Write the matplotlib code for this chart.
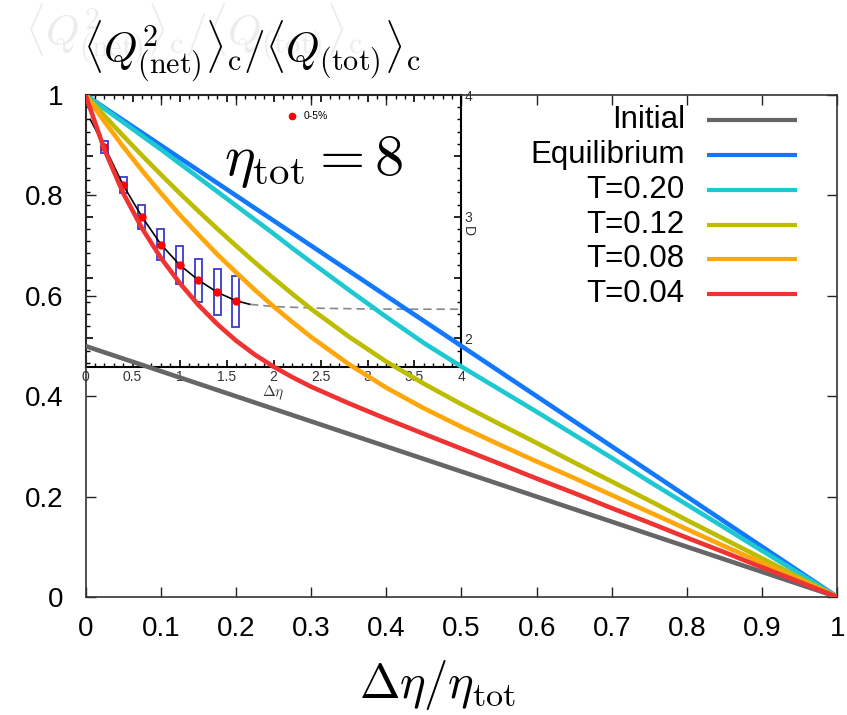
import matplotlib
matplotlib.use("Agg")
import matplotlib.pyplot as plt
from matplotlib.ticker import MultipleLocator, FuncFormatter

plt.rcParams['font.family'] = ['Liberation Sans', 'DejaVu Sans']
plt.rcParams['mathtext.fontset'] = 'cm'

# main panel: <Q_net^2>_c / <Q_tot>_c  vs  d_eta / eta_tot
x = [0, 0.025, 0.05, 0.075, 0.1, 0.125, 0.15, 0.175, 0.2, 0.225, 0.25, 0.275, 0.3,
     0.35, 0.4, 0.45, 0.5, 0.55, 0.6, 0.65, 0.7, 0.75, 0.8, 0.85, 0.9, 0.95, 1.0]
initial = [0.5, 0.4875, 0.475, 0.4625, 0.45, 0.4375, 0.425, 0.4125, 0.4, 0.3875, 0.375, 0.3625, 0.35,
           0.325, 0.3, 0.275, 0.25, 0.225, 0.2, 0.175, 0.15, 0.125, 0.1, 0.075, 0.05, 0.025, 0]
equilibrium = [1, 0.975, 0.95, 0.925, 0.9, 0.875, 0.85, 0.825, 0.8, 0.775, 0.75, 0.725, 0.7,
               0.65, 0.6, 0.55, 0.5, 0.45, 0.4, 0.35, 0.3, 0.25, 0.2, 0.15, 0.1, 0.05, 0]
t020 = [1, 0.973, 0.946, 0.919, 0.892, 0.864, 0.836, 0.808, 0.780, 0.752, 0.724, 0.695, 0.667,
        0.612, 0.558, 0.506, 0.459, 0.414, 0.369, 0.323, 0.277, 0.230, 0.184, 0.138, 0.092, 0.046, 0]
t012 = [1, 0.959, 0.919, 0.880, 0.842, 0.805, 0.769, 0.734, 0.700, 0.667, 0.635, 0.604, 0.574,
        0.519, 0.469, 0.425, 0.384, 0.345, 0.307, 0.268, 0.230, 0.192, 0.153, 0.115, 0.077, 0.038, 0]
t008 = [1, 0.9475, 0.8975, 0.850, 0.805, 0.762, 0.722, 0.683, 0.647, 0.612, 0.579, 0.548, 0.518,
        0.464, 0.417, 0.376, 0.339, 0.304, 0.270, 0.237, 0.203, 0.169, 0.135, 0.101, 0.068, 0.034, 0]
t004 = [1, 0.892, 0.805, 0.735, 0.676, 0.626, 0.582, 0.544, 0.511, 0.483, 0.459, 0.438, 0.419,
        0.386, 0.355, 0.325, 0.2955, 0.266, 0.236, 0.207, 0.177, 0.148, 0.118, 0.089, 0.059, 0.030, 0]

labels = ["Initial", "Equilibrium", "T=0.20", "T=0.12", "T=0.08", "T=0.04"]
series = [initial, equilibrium, t020, t012, t008, t004]
colors = ["#666666", "#1279ff", "#1ec8d2", "#bcbc00", "#ffa60a", "#ef3232"]

xticks = [0, 0.1, 0.2, 0.3, 0.4, 0.5, 0.6, 0.7, 0.8, 0.9, 1]
xticklabels = ["0", "0.1", "0.2", "0.3", "0.4", "0.5", "0.6", "0.7", "0.8", "0.9", "1"]
yticks = [0, 0.2, 0.4, 0.6, 0.8, 1]
yticklabels = ["0", "0.2", "0.4", "0.6", "0.8", "1"]

# inset: D vs d_eta, 0-5% centrality
deta = [0.2, 0.4, 0.6, 0.8, 1.0, 1.2, 1.4, 1.6]
D = [3.576, 3.262, 2.997, 2.770, 2.605, 2.477, 2.381, 2.305]
D_sys = [0.048, 0.068, 0.096, 0.127, 0.155, 0.174, 0.189, 0.209]
fit_x = [0.05, 0.2, 0.4, 0.6, 0.8, 1.0, 1.2, 1.4, 1.6, 1.75]
fit_y = [3.80, 3.58, 3.26, 3.00, 2.775, 2.605, 2.48, 2.38, 2.31, 2.28]
ext_x = [1.75, 2.0, 2.5, 3.0, 3.5, 4.0]
ext_y = [2.28, 2.262, 2.248, 2.242, 2.24, 2.24]

fig = plt.figure(figsize=(8.47, 7.15), dpi=100)
ax = fig.add_axes([0.101, 0.165, 0.8877, 0.702])

for lab, ys, c in zip(labels, series, colors):
    ax.plot(x, ys, color=c, lw=3.3, zorder=3, solid_capstyle='butt', solid_joinstyle='round')

ax.set_xlim(0, 1)
ax.set_ylim(0, 1)
ax.set_xticks(xticks)
ax.set_xticklabels(xticklabels)
ax.set_yticks(yticks)
ax.set_yticklabels(yticklabels)
ax.tick_params(direction='in', length=7, width=1, top=True, right=True,
               labelsize=20, colors='#222222', labelcolor='black')
ax.tick_params(axis='x', pad=14)
ax.tick_params(axis='y', pad=16)
for s in ax.spines.values():
    s.set_linewidth(1.2)
    s.set_color('#333333')

# gnuplot-like key: text right aligned, sample to the right
for i, (lab, c) in enumerate(zip(labels, colors)):
    yy = 0.95 - i * 0.0693
    ax.text(0.797, yy, lab, transform=ax.transAxes, ha='right', va='center', fontsize=22.5)
    ax.plot([0.826, 0.946], [yy, yy], transform=ax.transAxes, color=c, lw=3, solid_capstyle='butt')

ax.text(0.304, 0.867, r'$\eta_\mathrm{tot}=8$', ha='center', va='center', fontsize=42, zorder=6)

# inset panel
ins = ax.inset_axes([0, 0.458, 0.5, 0.542])
ins.set_zorder(1.5)
ins.patch.set_alpha(0)
ins.bar(deta, [2 * s for s in D_sys], bottom=[d - s for d, s in zip(D, D_sys)], width=0.075,
        fill=False, edgecolor='#3c3cc8', lw=1.3, zorder=3)
ins.plot(fit_x, fit_y, color='black', lw=1.2, zorder=4)
ins.plot(ext_x, ext_y, color='#888888', lw=1.2, ls=(0, (5, 3)), zorder=4)
ins.plot(deta, D, 'o', color='red', ms=5, zorder=5, label='0-5%')
ins.set_xlim(0, 4)
ins.set_ylim(1.764, 4)
ins.xaxis.set_major_locator(MultipleLocator(0.5))
ins.xaxis.set_minor_locator(MultipleLocator(0.1))
ins.yaxis.set_major_locator(MultipleLocator(0.5))
ins.yaxis.set_minor_locator(MultipleLocator(0.1))
ins.xaxis.set_major_formatter(FuncFormatter(lambda v, p: "%g" % v))
ins.yaxis.set_major_formatter(FuncFormatter(lambda v, p: "%d" % v if abs(v - round(v)) < 1e-6 else ""))
ins.tick_params(which='both', direction='in', top=True, right=True, labelsize=10,
                labelleft=False, labelright=True, pad=2, colors='black', labelcolor='#333333')
ins.tick_params(which='major', length=5, width=1.2)
ins.tick_params(which='minor', length=3, width=1)
ins.set_xlabel(r'$\Delta\eta$', fontsize=11, labelpad=0, color='#333333')
ins.yaxis.set_label_position('right')
ins.set_ylabel('D', fontsize=10, rotation=-90, labelpad=2, color='#333333')
for s in ins.spines.values():
    s.set_linewidth(1.5)
    s.set_color('black')
ins.legend(loc='upper left', bbox_to_anchor=(0.51, 0.975), frameon=False, fontsize=7.5,
           handletextpad=0.6, handlelength=1.0, markerscale=0.9)

ylab = r'$\langle Q^2_{(\mathrm{net})}\rangle_\mathrm{c}/\langle Q_{(\mathrm{tot})}\rangle_\mathrm{c}$'
fig.text(0.229, 0.952, ylab, ha='center', va='center', fontsize=31, color='#ececec')
fig.text(0.2975, 0.928, ylab, ha='center', va='center', fontsize=31, color='black')
fig.text(0.516, 0.042, r'$\Delta\eta/\eta_\mathrm{tot}$', ha='center', va='center', fontsize=35)

fig.savefig("out.png", dpi=100)
